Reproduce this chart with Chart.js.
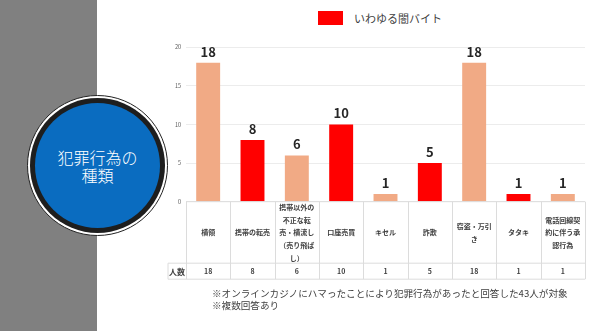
<!DOCTYPE html>
<html lang="ja">
<head>
<meta charset="utf-8">
<script src="https://cdn.jsdelivr.net/npm/chart.js@4"></script>
<style>
  html, body { margin: 0; padding: 0; }
  body { width: 590px; height: 331px; position: relative; overflow: hidden; background: #fff;
         font-family: "Noto Sans CJK JP", "Noto Sans", sans-serif; }
  #side { position: absolute; left: 0; top: 0; width: 97px; height: 331px; background: #808080; }
  #ring { position: absolute; left: 27px; top: 95px; width: 141px; height: 141px; box-sizing: border-box;
          border-radius: 50%; border: 1px solid #222; background: #fff; }
  #ring .black { position: absolute; left: 2px; top: 2px; right: 2px; bottom: 2px; border-radius: 50%; background: #1e1e1e; }
  #ring .blue { position: absolute; left: 5px; top: 5px; right: 5px; bottom: 5px; border-radius: 50%; background: #0a6cc0;
                color: #fff; font-size: 16px; font-weight: 300; line-height: 18px; text-align: center;
                display: flex; align-items: center; justify-content: center; }
  #legend { position: absolute; left: 318px; top: 10px; height: 15px; display: flex; align-items: center;
            font-size: 11px; color: #404040; }
  #legend .box { width: 25px; height: 14px; background: #ff0000; margin-right: 11px; }
  #wrap { position: absolute; left: 150px; top: 0; width: 440px; height: 290px; }
  #note { position: absolute; left: 212px; top: 288px; font-size: 9.6px; line-height: 11.5px; color: #404040; white-space: nowrap; }
</style>
</head>
<body>
<div id="side"></div>
<div id="ring"><div class="black"><div class="blue"><div>犯罪行為の<br>種類</div></div></div></div>
<div id="legend"><div class="box"></div><span>いわゆる闇バイト</span></div>
<div id="wrap"><canvas id="chart"></canvas></div>
<div id="note">※オンラインカジノにハマったことにより犯罪行為があったと回答した43人が対象<br>※複数回答あり</div>

<script>
// ── Data ──────────────────────────────────────────────────────────────────────
const categories = ['横領', '携帯の転売', '携帯以外の不正な転売・横流し（売り飛ばし）', '口座売買', 'キセル',
                    '詐欺', '窃盗・万引き', 'タタキ', '電話回線契約に伴う承認行為'];
const labelLines = [
  ['横領'],
  ['携帯の転売'],
  ['携帯以外の', '不正な転', '売・横流し', '（売り飛ば', 'し）'],
  ['口座売買'],
  ['キセル'],
  ['詐欺'],
  ['窃盗・万引', 'き'],
  ['タタキ'],
  ['電話回線契', '約に伴う承', '認行為'],
];
const counts = [18, 8, 6, 10, 1, 5, 18, 1, 1];
const yamiBaito = [false, true, false, true, false, true, false, true, false];
const yTicks = [0, 5, 10, 15, 20];
const rowLabel = '人数';

const RED = '#ff0000';
const SALMON = '#f1aa85';
const FONT = '"Noto Sans CJK JP", "Noto Sans", sans-serif';

// ── Plugins ───────────────────────────────────────────────────────────────────
const valueLabels = {
  id: 'valueLabels',
  afterDatasetsDraw(chart) {
    const ctx = chart.ctx;
    const meta = chart.getDatasetMeta(0);
    ctx.save();
    ctx.font = 'bold 13px ' + FONT;
    ctx.fillStyle = '#262626';
    ctx.textAlign = 'center';
    ctx.textBaseline = 'middle';
    meta.data.forEach((bar, i) => ctx.fillText(String(counts[i]), bar.x, bar.y - 11));
    ctx.restore();
  }
};

// data table under the plot, aligned to the category scale
const dataTable = {
  id: 'dataTable',
  afterDraw(chart) {
    const ctx = chart.ctx;
    const area = chart.chartArea;
    const x = chart.scales.x;
    const top = area.bottom, mid = top + 61.5, bot = mid + 16;
    const labelLeft = area.left - 18;
    const step = (area.right - area.left) / categories.length;
    ctx.save();
    ctx.strokeStyle = '#dcdcdc';
    ctx.lineWidth = 1;
    ctx.beginPath();
    ctx.moveTo(area.left, top); ctx.lineTo(area.right, top);
    ctx.moveTo(labelLeft, mid); ctx.lineTo(area.right, mid);
    ctx.moveTo(labelLeft, bot); ctx.lineTo(area.right, bot);
    ctx.moveTo(labelLeft, mid); ctx.lineTo(labelLeft, bot);
    for (let i = 0; i <= categories.length; i++) {
      const lx = Math.round(area.left + i * step) + 0.5;
      ctx.moveTo(lx, top); ctx.lineTo(lx, bot);
    }
    ctx.stroke();

    ctx.fillStyle = '#404040';
    ctx.textAlign = 'center';
    ctx.textBaseline = 'middle';
    ctx.font = 'bold 7px ' + FONT;
    const cy = top + 31, lh = 12.7;
    labelLines.forEach((lines, i) => {
      const cx = x.getPixelForValue(i);
      const y0 = cy - (lines.length - 1) * lh / 2;
      lines.forEach((t, j) => ctx.fillText(t, cx, y0 + j * lh));
    });
    ctx.font = 'bold 7px ' + FONT;
    counts.forEach((v, i) => ctx.fillText(String(v), x.getPixelForValue(i), mid + 8.5));
    ctx.font = 'bold 8px ' + FONT;
    ctx.fillText(rowLabel, (labelLeft + area.left) / 2, mid + 8.5);
    ctx.restore();
  }
};

// ── Chart ─────────────────────────────────────────────────────────────────────
new Chart(document.getElementById('chart'), {
  type: 'bar',
  data: {
    labels: categories,
    datasets: [{
      label: 'いわゆる闇バイト',
      data: counts,
      backgroundColor: yamiBaito.map(f => f ? RED : SALMON),
      borderWidth: 0,
      categoryPercentage: 1,
      barPercentage: 0.54,
    }]
  },
  options: {
    responsive: true, maintainAspectRatio: false,
    animation: false,
    layout: { padding: { top: 47.3, bottom: 88.3, right: 5, left: 0 } },
    plugins: { legend: { display: false }, tooltip: { enabled: false } },
    scales: {
      x: { display: false },
      y: {
        min: 0, max: 20,
        afterFit(scale) { scale.width = 36; },
        afterBuildTicks(scale) { scale.ticks = yTicks.map(v => ({ value: v })); },
        ticks: { font: { size: 5.5, family: FONT }, color: '#595959', padding: 5 },
        grid: { color: '#ececec', drawTicks: false },
        border: { display: false },
      }
    }
  },
  plugins: [valueLabels, dataTable]
});
</script>
</body>
</html>
